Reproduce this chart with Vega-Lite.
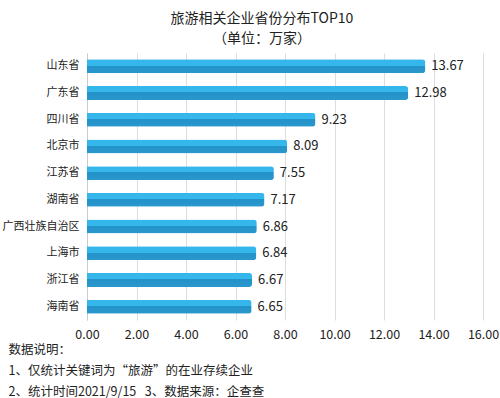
{
  "$schema": "https://vega.github.io/schema/vega-lite/v6.json",
  "width": 396,
  "height": 267,
  "autosize": {"type": "none"},
  "padding": {"left": 87, "top": 53, "right": 17, "bottom": 78},
  "background": "white",
  "config": {"font": "Noto Sans CJK SC", "view": {"stroke": null}},
  "title": {
    "text": ["旅游相关企业省份分布TOP10", "（单位：万家）"],
    "fontSize": 14,
    "fontWeight": "normal",
    "color": "#222222",
    "lineHeight": 20,
    "anchor": "middle",
    "dx": -23,
    "offset": 7
  },
  "data": {
    "values": [
      {"province": "山东省", "value": 13.67},
      {"province": "广东省", "value": 12.98},
      {"province": "四川省", "value": 9.23},
      {"province": "北京市", "value": 8.09},
      {"province": "江苏省", "value": 7.55},
      {"province": "湖南省", "value": 7.17},
      {"province": "广西壮族自治区", "value": 6.86},
      {"province": "上海市", "value": 6.84},
      {"province": "浙江省", "value": 6.67},
      {"province": "海南省", "value": 6.65}
    ]
  },
  "encoding": {
    "y": {
      "field": "province",
      "type": "nominal",
      "sort": null,
      "axis": {
        "title": null,
        "ticks": false,
        "domain": true,
        "domainColor": "#cccccc",
        "labelFontSize": 11,
        "labelColor": "#222222",
        "labelPadding": 8,
        "labelLimit": 90
      }
    },
    "x": {
      "field": "value",
      "type": "quantitative",
      "scale": {"domain": [0, 16], "nice": false},
      "axis": {
        "values": [0, 2, 4, 6, 8, 10, 12, 14, 16],
        "format": ".2f",
        "grid": true,
        "gridColor": "#dddddd",
        "domain": false,
        "ticks": false,
        "labelFlush": false,
        "labelOverlap": false,
        "labelFontSize": 12.5,
        "labelColor": "#222222",
        "labelPadding": 8,
        "title": ["数据说明：", "1、仅统计关键词为“旅游”的在业存续企业", "2、统计时间2021/9/15\u00a0\u00a0\u00a03、数据来源：企查查"],
        "titleFontSize": 12.5,
        "titleFontWeight": "normal",
        "titleColor": "#222222",
        "titleAnchor": "start",
        "titleAlign": "left",
        "titleBaseline": "top",
        "titleLineHeight": 21,
        "titleX": -79,
        "titleY": 23
      }
    }
  },
  "layer": [
    {
      "mark": {
        "type": "bar",
        "size": 14,
        "cornerRadiusEnd": 3,
        "color": {
          "gradient": "linear",
          "x1": 0, "y1": 0, "x2": 0, "y2": 1,
          "stops": [
            {"offset": 0, "color": "#35b7ec"},
            {"offset": 0.45, "color": "#35b7ec"},
            {"offset": 0.45, "color": "#2392c9"},
            {"offset": 1, "color": "#2a98cc"}
          ]
        }
      }
    },
    {
      "mark": {"type": "text", "align": "left", "dx": 6, "fontSize": 13, "color": "#222222"},
      "encoding": {"text": {"field": "value", "type": "quantitative", "format": ".2f"}}
    }
  ]
}
